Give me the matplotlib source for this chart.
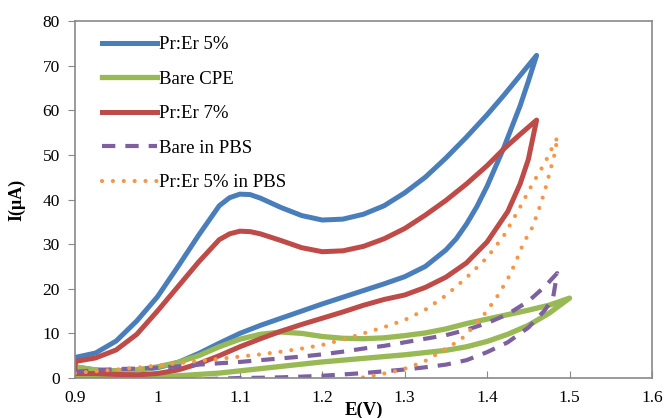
import matplotlib
matplotlib.use("Agg")
import matplotlib.pyplot as plt

# ------------------
# Data (each curve is one closed CV loop)
# ------------------
pr5_e = [0.90, 0.925, 0.95, 0.975, 1.00, 1.025, 1.05, 1.075, 1.0875, 1.10, 1.1125, 1.125, 1.15, 1.175,
         1.20, 1.225, 1.25, 1.275, 1.30, 1.325, 1.35, 1.375, 1.40, 1.42, 1.44, 1.46,
         1.45, 1.44, 1.42, 1.40, 1.3875, 1.375, 1.3625, 1.35, 1.325, 1.30, 1.275, 1.25, 1.225, 1.20,
         1.175, 1.15, 1.125, 1.10, 1.075, 1.05, 1.025, 1.00, 0.975, 0.95, 0.925, 0.90, 0.90]
pr5_i = [4.6, 5.6, 8.3, 12.8, 18.2, 25.0, 32.0, 38.6, 40.4, 41.2, 41.1, 40.3, 38.2, 36.4,
         35.4, 35.6, 36.7, 38.6, 41.5, 45.0, 49.3, 54.0, 59.0, 63.3, 67.8, 72.3,
         66.5, 61.0, 51.5, 43.0, 38.4, 34.5, 31.2, 28.7, 25.0, 22.7, 21.1, 19.6, 18.1, 16.6,
         15.0, 13.4, 11.8, 10.0, 7.8, 5.5, 3.5, 2.3, 1.8, 1.6, 1.8, 2.5, 4.6]

bare_e = [0.90, 0.925, 0.95, 0.975, 1.00, 1.025, 1.05, 1.075, 1.10, 1.125, 1.15, 1.175,
          1.20, 1.225, 1.25, 1.275, 1.30, 1.325, 1.35, 1.375, 1.40, 1.425, 1.45, 1.475, 1.50,
          1.475, 1.45, 1.425, 1.40, 1.375, 1.35, 1.325, 1.30, 1.275, 1.25, 1.225, 1.20,
          1.175, 1.15, 1.125, 1.10, 1.075, 1.05, 1.025, 1.00, 0.95, 0.90, 0.90]
bare_i = [2.5, 1.8, 1.6, 1.8, 2.5, 3.5, 5.0, 7.0, 8.7, 9.8, 10.3, 10.0,
          9.3, 8.9, 8.8, 9.0, 9.5, 10.1, 11.0, 12.2, 13.2, 14.2, 15.2, 16.3, 17.9,
          14.5, 11.8, 9.8, 8.2, 7.0, 6.2, 5.7, 5.2, 4.8, 4.4, 4.0, 3.6,
          3.1, 2.6, 2.1, 1.6, 1.1, 0.8, 0.5, 0.3, 0.2, 0.3, 2.5]

pr7_e = [0.90, 0.925, 0.95, 0.975, 1.00, 1.025, 1.05, 1.075, 1.0875, 1.10, 1.1125, 1.125, 1.15, 1.175,
         1.20, 1.225, 1.25, 1.275, 1.30, 1.325, 1.35, 1.375, 1.40, 1.42, 1.44, 1.46,
         1.45, 1.44, 1.425, 1.40, 1.375, 1.35, 1.325, 1.30, 1.275, 1.25, 1.225, 1.20,
         1.175, 1.15, 1.125, 1.10, 1.075, 1.05, 1.025, 1.00, 0.975, 0.95, 0.925, 0.90, 0.90]
pr7_i = [3.7, 4.5, 6.3, 9.8, 15.0, 20.5, 26.0, 31.0, 32.3, 32.9, 32.8, 32.3, 30.8, 29.2,
         28.3, 28.5, 29.5, 31.2, 33.5, 36.5, 39.8, 43.5, 47.6, 51.3, 54.6, 57.8,
         49.0, 43.5, 37.3, 30.5, 25.8, 22.6, 20.3, 18.6, 17.6, 16.3, 14.8, 13.4,
         12.0, 10.5, 8.8, 7.0, 5.0, 3.2, 1.8, 1.0, 0.7, 0.8, 1.0, 1.0, 3.7]

pbs_e = [0.90, 0.925, 0.95, 0.975, 1.00, 1.025, 1.05, 1.075, 1.10, 1.125, 1.15, 1.175,
         1.20, 1.225, 1.25, 1.275, 1.30, 1.325, 1.35, 1.375, 1.40, 1.425, 1.45, 1.47, 1.485,
         1.48, 1.47, 1.45, 1.425, 1.40, 1.375, 1.35, 1.325, 1.30, 1.275, 1.25, 1.225,
         1.20, 1.175, 1.15, 1.125, 1.10, 1.05, 1.00]
pbs_i = [1.4, 1.7, 2.0, 2.1, 2.3, 2.6, 3.0, 3.3, 3.6, 4.0, 4.4, 4.8,
         5.3, 5.9, 6.6, 7.2, 8.0, 8.8, 9.6, 10.8, 12.3, 14.3, 17.2, 20.5, 23.5,
         18.0, 15.2, 11.3, 8.0, 5.8, 4.0, 3.0, 2.4, 1.9, 1.5, 1.1, 0.8,
         0.5, 0.3, 0.15, 0.05, 0.0, -0.3, -0.5]

pr5pbs_e = [0.90, 0.925, 0.95, 0.975, 1.00, 1.025, 1.05, 1.075, 1.10, 1.125, 1.15, 1.175,
            1.20, 1.225, 1.25, 1.275, 1.30, 1.325, 1.35, 1.375, 1.40, 1.42, 1.44, 1.455,
            1.47, 1.48, 1.4855,
            1.4816, 1.4757, 1.4696, 1.4624, 1.455, 1.444, 1.434, 1.4245, 1.412, 1.398,
            1.382, 1.3675, 1.347, 1.327, 1.307, 1.295, 1.27, 1.246, 1.22]
pr5pbs_i = [1.1, 1.5, 1.9, 2.3, 2.8, 3.3, 3.8, 4.3, 4.8, 5.3, 5.9, 6.6,
            7.4, 8.6, 10.0, 11.4, 13.0, 15.3, 18.5, 22.5, 27.0, 31.8, 38.3, 43.5,
            48.2, 52.0, 54.0,
            50.0, 45.9, 41.7, 37.6, 33.8, 30.2, 25.7, 22.0, 18.2, 14.6,
            11.2, 8.5, 6.3, 4.0, 2.5, 1.8, 0.8, 0.0, -0.8]

x_ticks = [0.9, 1.0, 1.1, 1.2, 1.3, 1.4, 1.5, 1.6]
x_tick_labels = ["0.9", "1", "1.1", "1.2", "1.3", "1.4", "1.5", "1.6"]
y_ticks = [0, 10, 20, 30, 40, 50, 60, 70, 80]

# ------------------
# Plot
# ------------------
plt.rcParams['font.family'] = ['Liberation Serif', 'DejaVu Serif']

fig = plt.figure(figsize=(6.67, 4.18), dpi=100)
ax = fig.add_axes([75 / 667, 40 / 418, 577 / 667, 357 / 418])

ax.plot(pr5_e, pr5_i, color='#4A7EBB', lw=3.6, solid_joinstyle='round', label='Pr:Er 5%')
ax.plot(bare_e, bare_i, color='#98B954', lw=3.8, solid_joinstyle='round', label='Bare CPE')
ax.plot(pr7_e, pr7_i, color='#BE4B48', lw=3.6, solid_joinstyle='round', label='Pr:Er 7%')
ax.plot(pbs_e, pbs_i, color='#7D60A0', lw=3.0, linestyle=(0, (3.2, 2.4)),
        dash_capstyle='butt', label='Bare in PBS')
ax.plot(pr5pbs_e, pr5pbs_i, color='#F79646', lw=3.0, linestyle=(0, (0.01, 2.6)),
        dash_capstyle='round', label='Pr:Er 5% in PBS')

ax.set_xlim(0.9, 1.6)
ax.set_ylim(0, 80)
ax.set_xticks(x_ticks)
ax.set_xticklabels(x_tick_labels)
ax.set_yticks(y_ticks)

for s in ax.spines.values():
    s.set_color('#898989')
    s.set_linewidth(1.2)
ax.tick_params(axis='x', direction='in', length=5, color='#898989', labelsize=12.5, pad=9)
ax.tick_params(axis='y', direction='out', length=5, color='#898989', labelsize=12.5, pad=6)

fig.text(364 / 667, 1 - 410 / 418, 'E(V)', ha='center', va='center',
         fontsize=13.5, fontweight='bold')
fig.text(17 / 667, 1 - 200 / 418, 'I(μA)', ha='center', va='center', rotation=90,
         fontsize=13, fontweight='bold')

ax.legend(loc='upper left', bbox_to_anchor=(0.02, 1.0), frameon=False, fontsize=13.5,
          handlelength=2.95, handletextpad=0.1, labelspacing=0.93, borderaxespad=0.4)

fig.savefig('out.png', dpi=100)
